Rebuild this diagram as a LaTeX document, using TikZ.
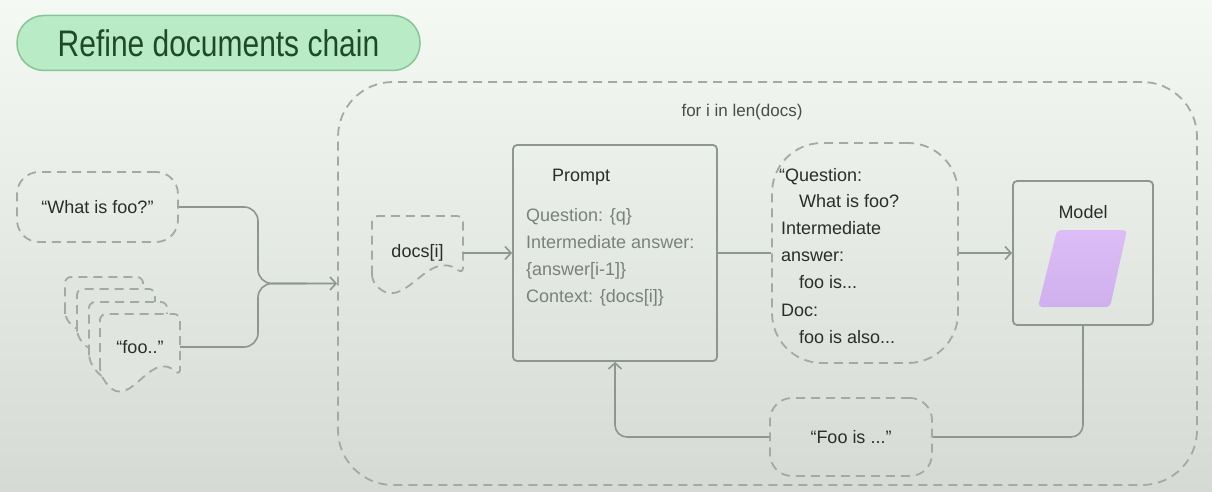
\documentclass[tikz,border=0pt]{standalone}
\usepackage{fontspec}
\setmainfont{Liberation Sans}
\newfontfamily\titlefont{Liberation Sans}[FakeStretch=0.81]
\usetikzlibrary{arrows.meta}
\definecolor{bgtop}{HTML}{F4F9F3}
\definecolor{bgbot}{HTML}{D5DBD4}
\definecolor{dashc}{HTML}{A3A9A3}
\definecolor{linec}{HTML}{8F958F}
\definecolor{txt}{HTML}{2A2E2A}
\definecolor{gtxt}{HTML}{7A807A}
\definecolor{titlefill}{HTML}{B9EBC7}
\definecolor{titledraw}{HTML}{88C497}
\definecolor{titletxt}{HTML}{1E4A29}
\definecolor{purptop}{HTML}{DDBDF5}
\definecolor{purpbot}{HTML}{CFB0EE}
\definecolor{docfill}{HTML}{E0E6DF}
% document outline: x y w h left-bottom-fraction
\newcommand\docpath[5]{(#1,#2+#4*#5) -- (#1,#2) -- (#1+#3,#2) -- (#1+#3,#2+#4*0.75) .. controls (#1+#3*0.6,#2+#4*0.40) and (#1+#3*0.35,#2+#4*1.30) .. (#1,#2+#4*#5) -- cycle}
\begin{document}
\begin{tikzpicture}[x=1pt,y=-1pt,
  dsh/.style={draw=dashc, line width=1.8pt, dash pattern=on 9pt off 6pt},
  dbox/.style={dsh, rounded corners=#1, inner sep=0pt},
  sbox/.style={draw=linec, line width=1.8pt, rounded corners=4pt, inner sep=0pt},
  conn/.style={draw=linec, line width=1.6pt},
  arr/.style={conn, -{Straight Barb[length=6pt,width=13pt,line width=1.6pt]}},
  t18/.style={font=\fontsize{18}{22}\selectfont, text=txt, inner sep=0pt},
  g18/.style={font=\fontsize{18}{22}\selectfont, text=gtxt, inner sep=0pt},
]
\useasboundingbox (0,0) rectangle (1212,492);
\shade[top color=bgtop, bottom color=bgbot] (0,0) rectangle (1212,492);

% title
\node[draw=titledraw, fill=titlefill, rounded corners=27pt, minimum width=403pt, minimum height=55pt,
      line width=1.5pt, text=titletxt, font=\titlefont\fontsize{37}{40}\selectfont, inner sep=0pt] (title) at (218.5,43) {Refine documents chain};

% loop box
\node[dbox=55pt, minimum width=859pt, minimum height=403pt] (loop) at (767.5,283.5) {};
\node[font=\fontsize{17}{20}\selectfont, text=txt!85, inner sep=0pt] (forlabel) at (742,112) {for i in len(docs)};

% inputs
\node[dbox=22pt, minimum width=161pt, minimum height=70pt, t18] (what) at (97.5,207) {“What is foo?”};
\draw[dsh, fill=docfill, rounded corners=6pt] \docpath{65}{277}{78}{56}{0.72};
\draw[dsh, fill=docfill, rounded corners=6pt] \docpath{77}{289}{78}{64}{0.72};
\draw[dsh, fill=docfill, rounded corners=6pt] \docpath{89}{302}{78}{80}{0.72};
\draw[dsh, fill=docfill, rounded corners=6pt] \docpath{100}{314}{80}{82}{0.72};
\node[t18, minimum width=80pt] (foo) at (140,347) {“foo..”};

\coordinate (j) at (258,283.5);
\draw[conn, rounded corners=14pt] (what.east) -| (j) -- ([xshift=-30pt]loop.west);
\draw[arr, rounded corners=14pt] (foo.east) -| (j) -- (loop.west);

% docs[i]
\draw[dsh, rounded corners=6pt] \docpath{372}{216}{91}{77}{0.84};
\node[t18, minimum width=91pt, minimum height=40pt] (docsi) at (417.5,253) {docs[i]};

% prompt
\node[sbox, minimum width=204pt, minimum height=216pt] (prompt) at (615,253) {};
\node[t18, anchor=base west] (ptitle) at (552,181) {Prompt};
\node[g18, anchor=base west] (p1) at (526,221) {Question: \{q\}};
\node[g18, anchor=base west] (p2) at (526,248) {Intermediate answer:};
\node[g18, anchor=base west] (p3) at (526,275) {\{answer[i-1]\}};
\node[g18, anchor=base west] (p4) at (526,302) {Context: \{docs[i]\}};

% filled question
\node[dbox=50pt, minimum width=186pt, minimum height=220pt] (question) at (865,253) {};
\node[t18, anchor=base west] (q1) at (779,181) {“Question:};
\node[t18, anchor=base west] (q2) at (799,207) {What is foo?};
\node[t18, anchor=base west] (q3) at (781,234) {Intermediate};
\node[t18, anchor=base west] (q4) at (781,261) {answer:};
\node[t18, anchor=base west] (q5) at (799,288) {foo is...};
\node[t18, anchor=base west] (q6) at (781,316) {Doc:};
\node[t18, anchor=base west] (q7) at (799,343) {foo is also...};

% model
\node[sbox, minimum width=140pt, minimum height=144pt] (model) at (1083,253) {};
\node[t18] (mtitle) at (1083,212) {Model};
\shade[top color=purptop, bottom color=purpbot, rounded corners=4pt] (1057,230) -- (1127,230) -- (1110,307) -- (1038,307) -- cycle;

% answer
\node[dbox=22pt, minimum width=162pt, minimum height=78pt, t18] (fooans) at (851,437) {“Foo is ...”};

% connectors
\draw[arr] (docsi.east) -- (prompt.west);
\draw[conn] (prompt.east) -- (question.west);
\draw[arr] (question.east) -- (model.west);
\draw[conn, rounded corners=12pt] (model.south) |- (fooans.east);
\draw[arr, rounded corners=12pt] (fooans.west) -| (prompt.south);
\end{tikzpicture}
\end{document}
